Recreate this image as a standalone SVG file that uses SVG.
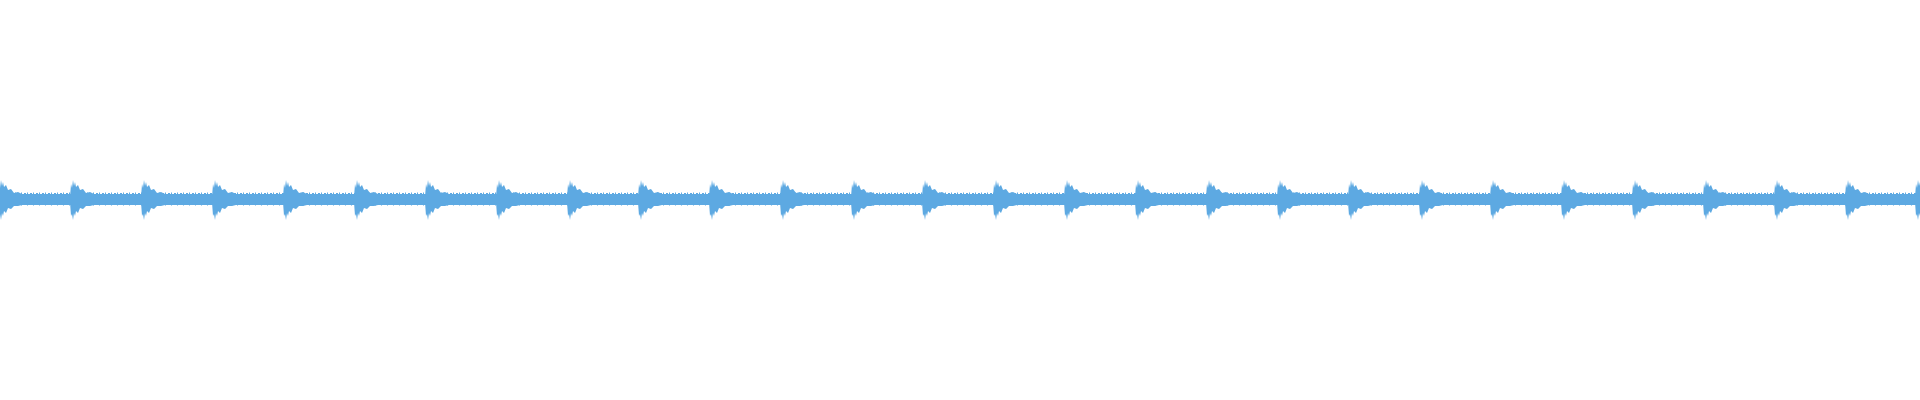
<svg xmlns="http://www.w3.org/2000/svg" width="1920" height="400" viewBox="0 0 1920 400">
<style>.w{fill:#5DA9E2}</style>
<defs>
<path id="s" class="w" d="M0,197 L1,184 L2,188 L3,180 L4,186 L5,182 L6,187 L8,185 L10,190 L13,189 L16,193 L20,192 L24,194 L24,205 L20,206 L16,206 L13,209 L10,208 L8,213 L6,211 L5,216 L4,213 L3,220 L2,214 L1,216 L0,202 Z"/>
<pattern id="j" width="6" height="14" patternUnits="userSpaceOnUse" x="0" y="192">
<rect x="0" y="1" width="2" height="12" class="w"/><rect x="3" y="0.5" width="1" height="13" class="w"/>
</pattern>
</defs>
<rect width="1920" height="400" fill="#fff"/>
<g id="waveform">
<rect x="0" y="194" width="1920" height="11" class="w"/>
<rect x="0" y="192" width="1920" height="14" fill="url(#j)"/>
<use href="#s" x="-2"/>
<use href="#s" x="70"/>
<use href="#s" x="141" transform="translate(0,0)"/>
<use href="#s" x="212"/>
<use href="#s" x="283"/>
<use href="#s" x="354"/>
<use href="#s" x="425"/>
<use href="#s" x="496"/>
<use href="#s" x="567"/>
<use href="#s" x="638"/>
<use href="#s" x="709"/>
<use href="#s" x="780"/>
<use href="#s" x="851"/>
<use href="#s" x="922"/>
<use href="#s" x="993"/>
<use href="#s" x="1064"/>
<use href="#s" x="1135"/>
<use href="#s" x="1206"/>
<use href="#s" x="1277"/>
<use href="#s" x="1348"/>
<use href="#s" x="1419"/>
<use href="#s" x="1490"/>
<use href="#s" x="1561"/>
<use href="#s" x="1632"/>
<use href="#s" x="1703"/>
<use href="#s" x="1774"/>
<use href="#s" x="1845"/>
<use href="#s" x="1915"/>
</g>
</svg>
